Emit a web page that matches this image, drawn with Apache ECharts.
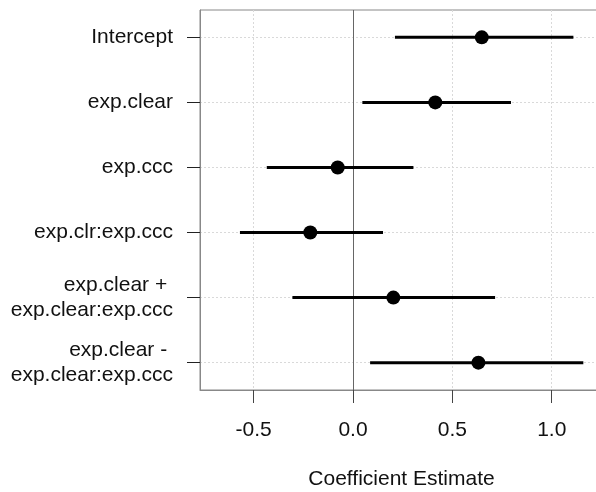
<!DOCTYPE html>
<html>
<head>
<meta charset="utf-8">
<script src="https://cdn.jsdelivr.net/npm/echarts@6/dist/echarts.min.js"></script>
<style>html,body{margin:0;padding:0;background:#fff}#c{width:596px;height:492px}</style>
</head>
<body>
<div id="c"></div>
<script>
var terms = ['Intercept', 'exp.clear', 'exp.ccc', 'exp.clr:exp.ccc', 'exp.clear + \nexp.clear:exp.ccc', 'exp.clear - \nexp.clear:exp.ccc'];
var estimates = [0.648, 0.414, -0.077, -0.215, 0.203, 0.631];
var lower = [0.211, 0.047, -0.434, -0.569, -0.305, 0.086];
var upper = [1.109, 0.795, 0.304, 0.151, 0.715, 1.159];
var xTicks = [-0.5, 0, 0.5, 1.0];
var rowPos = [1, 2, 3, 4, 5, 6];

var font = 'Liberation Sans, Arial, sans-serif';
var chart = echarts.init(document.getElementById('c'), null, {renderer: 'canvas'});

var pointData = estimates.map(function (v, i) { return [v, rowPos[i]]; });
var ciData = lower.map(function (v, i) { return [v, upper[i], rowPos[i]]; });

var gridMarks = [];
xTicks.forEach(function (t) { gridMarks.push({xAxis: t}); });
rowPos.forEach(function (r) { gridMarks.push({yAxis: r}); });

chart.setOption({
  animation: false,
  backgroundColor: '#fff',
  grid: {left: 200, right: -7, top: 10, bottom: 102, containLabel: false, outerBoundsMode: 'none',
    show: true, borderColor: '#888', borderWidth: 1, backgroundColor: 'transparent'},
  xAxis: {
    type: 'value', min: -0.770, max: 1.258,
    name: 'Coefficient Estimate', nameLocation: 'middle', nameGap: 79,
    nameTextStyle: {fontFamily: font, fontSize: 21, color: '#111'},
    axisLine: {show: true, onZero: false, lineStyle: {color: '#888', width: 1}},
    splitLine: {show: false},
    axisTick: {show: true, length: 13, customValues: xTicks, lineStyle: {color: '#444', width: 1}},
    axisLabel: {customValues: xTicks, margin: 30, fontFamily: font, fontSize: 21, color: '#111',
      formatter: function (v) { return Number(v).toFixed(1); }}
  },
  yAxis: {
    type: 'value', inverse: true, min: 0.58, max: 6.42,
    axisLine: {show: true, onZero: false, lineStyle: {color: '#888', width: 1}},
    splitLine: {show: false},
    axisTick: {show: true, length: 13, customValues: rowPos, lineStyle: {color: '#222', width: 1}},
    axisLabel: {customValues: rowPos, margin: 27, fontFamily: font, fontSize: 21, color: '#111', lineHeight: 25, align: 'right',
      formatter: function (v) { return terms[Math.round(v) - 1] || ''; }}
  },
  series: [
    {
      type: 'scatter', data: [], silent: true, z: 0,
      markLine: {
        silent: true, symbol: 'none', label: {show: false}, z: 0,
        lineStyle: {color: '#d9d9d9', type: [2, 2], width: 1},
        data: gridMarks
      }
    },
    {
      type: 'scatter', data: [], silent: true, z: 1,
      markLine: {
        silent: true, symbol: 'none', label: {show: false}, z: 1,
        lineStyle: {color: '#666', type: 'solid', width: 1},
        data: [{xAxis: 0}]
      }
    },
    {
      type: 'custom', data: ciData, silent: true, z: 4,
      renderItem: function (params, api) {
        var p1 = api.coord([api.value(0), api.value(2)]);
        var p2 = api.coord([api.value(1), api.value(2)]);
        return {type: 'line', shape: {x1: p1[0], y1: p1[1], x2: p2[0], y2: p2[1]},
          style: {stroke: '#000', lineWidth: 3, lineDash: null, fill: null}};
      },
      encode: {x: [0, 1], y: 2}
    },
    {
      type: 'scatter', data: pointData, symbol: 'circle', symbolSize: 14,
      itemStyle: {color: '#000', opacity: 1}, silent: true, z: 5
    }
  ]
});
</script>
</body>
</html>
